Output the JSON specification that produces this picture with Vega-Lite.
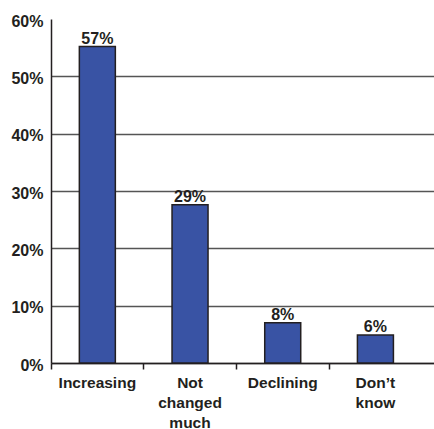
{
  "$schema": "https://vega.github.io/schema/vega-lite/v6.json",
  "autosize": {"type": "none"},
  "width": 383,
  "height": 344,
  "padding": {"left": 51, "top": 19, "right": 0, "bottom": 66},
  "background": "white",
  "config": {
    "view": {"stroke": null},
    "font": "Liberation Sans"
  },
  "data": {
    "values": [
      {"category": "Increasing", "value": 55.2, "label": "57%"},
      {"category": "Not changed much", "value": 27.6, "label": "29%"},
      {"category": "Declining", "value": 7.0, "label": "8%"},
      {"category": "Don’t know", "value": 4.9, "label": "6%"}
    ]
  },
  "encoding": {
    "x": {
      "field": "category",
      "type": "nominal",
      "sort": null,
      "scale": {"paddingInner": 0, "paddingOuter": 0.066, "align": 0},
      "axis": {
        "title": null,
        "labelAngle": 0,
        "labelExpr": "split(datum.value, ' ')",
        "labelFont": "Liberation Sans",
        "labelFontWeight": "bold",
        "labelFontSize": 15.5,
        "labelColor": "#231F20",
        "labelLineHeight": 20,
        "labelPadding": 6,
        "bandPosition": 0,
        "tickSize": 6,
        "tickColor": "#231F20",
        "tickWidth": 1.5,
        "domainColor": "#231F20",
        "domainWidth": 1.5,
        "grid": false
      }
    },
    "y": {
      "field": "value",
      "type": "quantitative",
      "scale": {"domain": [0, 60], "nice": false},
      "axis": {
        "title": null,
        "values": [0, 10, 20, 30, 40, 50, 60],
        "labelExpr": "datum.value + '%'",
        "labelFont": "Liberation Sans",
        "labelFontWeight": "bold",
        "labelFontSize": 16,
        "labelColor": "#231F20",
        "labelPadding": 8,
        "labelOffset": 2,
        "ticks": false,
        "domainColor": "#231F20",
        "domainWidth": 1.5,
        "grid": true,
        "gridColor": "#555555",
        "gridWidth": 1.5,
        "gridOpacity": {"condition": {"test": "datum.value == 60", "value": 0}, "value": 1}
      }
    }
  },
  "layer": [
    {
      "mark": {"type": "bar", "width": 36, "color": "#3953A4", "stroke": "#231F20", "strokeWidth": 1.5}
    },
    {
      "mark": {"type": "text", "baseline": "alphabetic", "dy": -3, "font": "Liberation Sans", "fontWeight": "bold", "fontSize": 16, "color": "#231F20"},
      "encoding": {"text": {"field": "label"}}
    }
  ]
}
